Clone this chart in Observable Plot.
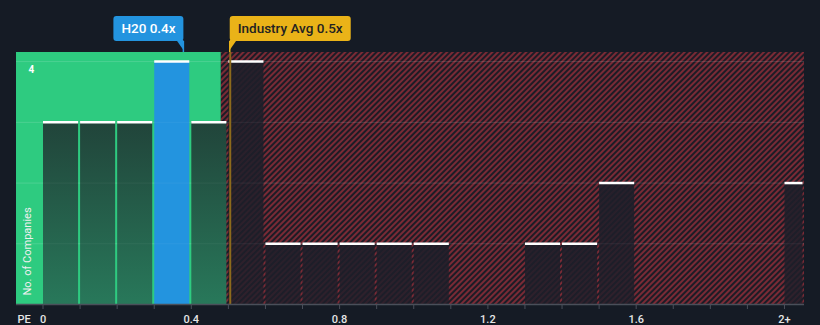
<!DOCTYPE html>
<html><head><meta charset="utf-8">
<script src="https://cdn.jsdelivr.net/npm/d3@7"></script>
<script src="https://cdn.jsdelivr.net/npm/@observablehq/plot@0.6"></script>
<style>
html,body{margin:0;padding:0;background:#151b25;}
#chart svg{display:block;}
</style></head><body><div id="chart"></div>
<script>
// ---- data ----
const binStart = [0, 0.1, 0.2, 0.3, 0.4, 0.5, 0.6, 0.7, 0.8, 0.9, 1.0, 1.1, 1.2, 1.3, 1.4, 1.5, 1.6, 1.7, 1.8, 1.9, 2.0];
const counts   = [3, 3, 3, 4, 3, 4, 1, 1, 1, 1, 1, 0, 0, 1, 1, 2, 0, 0, 0, 0, 2];
const binWidth = 0.1;
const xTicks = [0, 0.1, 0.2, 0.3, 0.4, 0.5, 0.6, 0.7, 0.8, 0.9, 1.0, 1.1, 1.2, 1.3, 1.4, 1.5, 1.6, 1.7, 1.8, 1.9, 2.0];
const xLabelValues = [0, 0.4, 0.8, 1.2, 1.6, 2.0];
const xLabelTexts  = ["0", "0.4", "0.8", "1.2", "1.6", "2+"];
const xAxisTitle = "PE";
const yAxisTitle = "No. of Companies";
const yLabelValues = [4];
const gridValues = [1, 2, 3, 4];
const companyPE = 0.38;
const companyLabel = "H20 0.4x";
const industryAvg = 0.505;
const industryLabel = "Industry Avg 0.5x";
const goodUpper = 0.481;
const xMin = -0.0715, xMax = 2.054;
const yMax = 4.15;

// ---- derived table ----
const bins = binStart.map((s, i) => ({x1: s, x2: Math.min(s + binWidth, xMax), count: counts[i]}))
  .filter(d => d.count > 0);
const isCompany = d => companyPE >= d.x1 && companyPE < d.x2;
const companyBins = bins.filter(isCompany);
const greenBins = bins.filter(d => !isCompany(d) && d.x1 < goodUpper);
const redBins = bins.filter(d => !isCompany(d) && d.x1 >= goodUpper);

const defs = () => {
  const d = d3.create("svg:defs");
  const p = d.append("pattern").attr("id", "hatch").attr("patternUnits", "userSpaceOnUse")
    .attr("width", 4).attr("height", 4).attr("patternTransform", "rotate(45)");
  p.append("rect").attr("width", 4).attr("height", 4).attr("fill", "#1c1c26");
  p.append("rect").attr("width", 2).attr("height", 4).attr("fill", "#7a2a35");
  const g = d.append("linearGradient").attr("id", "gGreen").attr("x1", 0).attr("x2", 0).attr("y1", 0).attr("y2", 1);
  g.append("stop").attr("offset", 0).attr("stop-color", "#21443a");
  g.append("stop").attr("offset", 1).attr("stop-color", "#28785a");
  const r = d.append("linearGradient").attr("id", "gDark").attr("x1", 0).attr("x2", 0).attr("y1", 0).attr("y2", 1);
  r.append("stop").attr("offset", 0).attr("stop-color", "#1d1e29").attr("stop-opacity", 0.9);
  r.append("stop").attr("offset", 1).attr("stop-color", "#1d1e29").attr("stop-opacity", 0.8);
  return d.node();
};

function callout(value, label, bg, fg, side) {
  return (index, scales, values, dimensions) => {
    const px = scales.x(value);
    const top = 16, h = 25, frameTop = dimensions.marginTop;
    const font = "500 13.5px Roboto";
    const c = document.createElement("canvas").getContext("2d");
    c.font = font;
    const w = Math.round(c.measureText(label).width + 16);
    const g = d3.create("svg:g");
    const x0 = side === "right" ? px - w : px;
    g.append("rect").attr("x", x0).attr("y", top).attr("width", w).attr("height", h).attr("rx", 3).attr("fill", bg);
    const tipY = top + h + 9;
    if (side === "right") {
      g.append("path").attr("d", `M${px - 7},${top + h - 1}L${px},${top + h - 1}L${px},${tipY}Z`).attr("fill", bg);
    } else {
      g.append("path").attr("d", `M${px},${top + h - 1}L${px + 7},${top + h - 1}L${px},${tipY}Z`).attr("fill", bg);
    }
    g.append("line").attr("x1", px).attr("x2", px).attr("y1", top + h).attr("y2", frameTop)
      .attr("stroke", bg).attr("stroke-width", 1.5);
    g.append("text").attr("x", x0 + 8).attr("y", top + h / 2).attr("dy", "0.35em")
      .attr("text-anchor", "start").style("text-anchor", "start")
      .attr("fill", fg).style("font", font).text(label);
    return g.node();
  };
}

const chart = Plot.plot({
  width: 820, height: 325,
  marginTop: 52, marginBottom: 21, marginLeft: 16, marginRight: 16,
  style: {background: "#151b25", fontFamily: "Roboto, sans-serif", overflow: "visible"},
  x: {domain: [xMin, xMax], axis: null},
  y: {domain: [0, yMax], axis: null},
  marks: [
    defs,
    Plot.rect([{x1: xMin, x2: goodUpper}], {x1: "x1", x2: "x2", y1: 0, y2: yMax, fill: "#2ecb80"}),
    Plot.rect([{x1: goodUpper, x2: xMax}], {x1: "x1", x2: "x2", y1: 0, y2: yMax, fill: "url(#hatch)"}),
    Plot.ruleY(gridValues, {stroke: "#ffffff", strokeOpacity: 0.1}),
    Plot.rectY(greenBins, {x1: "x1", x2: "x2", y: "count", fill: "url(#gGreen)", insetLeft: 0.5, insetRight: 1.5}),
    Plot.rectY(redBins, {x1: "x1", x2: "x2", y: "count", fill: "url(#gDark)", insetLeft: 0.5, insetRight: 1.5}),
    Plot.rectY(companyBins, {x1: "x1", x2: "x2", y: "count", fill: "#2394df", insetLeft: 0.5, insetRight: 1.5}),
    Plot.ruleY(gridValues, {stroke: "#ffffff", strokeOpacity: 0.05}),
    Plot.ruleY(bins, {x1: d => d.x1, x2: d => d.x2, y: "count", stroke: "#ffffff", strokeWidth: 2.5, insetLeft: 0.5, insetRight: 1.5}),
    Plot.ruleX([industryAvg], {y1: 0, y2: yMax, stroke: "#8d6a1c", strokeWidth: 2}),
    Plot.ruleY([0], {stroke: "#4a4f5a", strokeWidth: 1.5}),
    Plot.axisX({ticks: xTicks, tickFormat: () => "", tickSize: 5, stroke: "#4a4f5a"}),
    Plot.axisX({ticks: xLabelValues, tickFormat: (d, i) => xLabelTexts[i], tickSize: 0, tickPadding: 11,
      fill: "#e6e6e6", fontSize: 11, fontWeight: 500}),
    Plot.axisX({ticks: [xMin], tickFormat: () => xAxisTitle, tickSize: 0, tickPadding: 11, textAnchor: "start", dx: 1,
      fill: "#e6e6e6", fontSize: 11, fontWeight: 500}),
    Plot.text(yLabelValues, {y: d => d, text: d => String(d), frameAnchor: "left", dx: 12, dy: 8, fill: "#ffffff", fontSize: 10, fontWeight: 700}),
    Plot.text([yAxisTitle], {x: xMin, y: 0, text: d => d, dx: 11, dy: -9, rotate: -90, textAnchor: "start", fill: "#f0f0f0", fontSize: 11}),
    callout(companyPE, companyLabel, "#2394df", "#ffffff", "right"),
    callout(industryAvg, industryLabel, "#eab318", "#222222", "left")
  ]
});
document.getElementById("chart").appendChild(chart);
</script>
</body></html>
